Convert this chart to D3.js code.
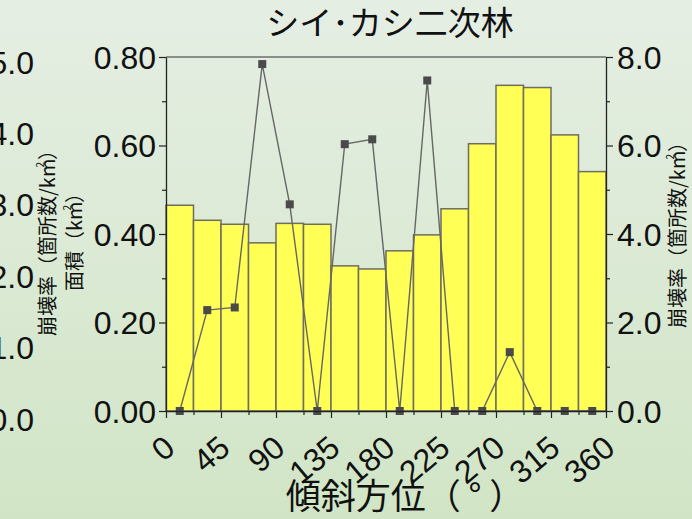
<!DOCTYPE html>
<html>
<head>
<meta charset="utf-8">
<script src="https://cdn.jsdelivr.net/npm/d3@7"></script>
<style>
  html, body { margin: 0; padding: 0; }
  body { width: 692px; height: 519px; overflow: hidden; }
  svg { display: block; }
</style>
</head>
<body>
<svg id="chart" width="692" height="519"></svg>
<script>
// Slope-aspect bins (degrees, start of each 22.5° class)
const binStart = [0, 22.5, 45, 67.5, 90, 112.5, 135, 157.5, 180, 202.5, 225, 247.5, 270, 292.5, 315, 337.5];
const binWidth = 22.5;
// Area of each aspect class (km²) — bars, left axis
const areaKm2 = [0.465, 0.431, 0.422, 0.380, 0.424, 0.422, 0.328, 0.321, 0.362, 0.398, 0.457, 0.604, 0.736, 0.731, 0.624, 0.541];
// Collapse rate (sites / km²) — line, right axis
const collapseRate = [0, 2.28, 2.34, 7.84, 4.67, 0, 6.03, 6.14, 0, 7.47, 0, 0, 1.33, 0, 0, 0];
// Tick values
const xTicks = [0, 45, 90, 135, 180, 225, 270, 315, 360];
const leftTicks = [0, 0.2, 0.4, 0.6, 0.8];
const rightTicks = [0, 2, 4, 6, 8];
const sideTicks = [0, 1, 2, 3, 4, 5];

const title = "シイ･カシ二次林";
const xTitle = "傾斜方位（ °  ）";

const svg = d3.select("#chart");
const W = 692, H = 519;
const plot = { left: 166, right: 606, top: 57, bottom: 411 };
const numFont = "'Liberation Sans', Arial, sans-serif";
const jpFont = "'Noto Sans CJK JP', 'Noto Sans', sans-serif";
const numSize = 32;

// background gradient
const defs = svg.append("defs");
const grad = defs.append("linearGradient").attr("id", "bg").attr("x1", 0).attr("y1", 0).attr("x2", 0).attr("y2", 1);
grad.append("stop").attr("offset", "0%").attr("stop-color", "#e5eee3");
grad.append("stop").attr("offset", "100%").attr("stop-color", "#d1e5c6");
svg.append("rect").attr("width", W).attr("height", H).attr("fill", "url(#bg)");

const x = d3.scaleLinear().domain([0, 360]).range([plot.left, plot.right]);
const yL = d3.scaleLinear().domain([0, 0.8]).range([plot.bottom, plot.top]);
const yR = d3.scaleLinear().domain([0, 8]).range([plot.bottom, plot.top]);
const ySide = d3.scaleLinear().domain([0, 5]).range([419, 62]);

// bars
svg.append("g").selectAll("rect").data(areaKm2).join("rect")
  .attr("x", (d, i) => x(binStart[i]))
  .attr("width", (d, i) => x(binStart[i] + binWidth) - x(binStart[i]))
  .attr("y", d => yL(d))
  .attr("height", d => yL(0) - yL(d))
  .attr("fill", "#ffff55")
  .attr("stroke", "#6e6e60")
  .attr("stroke-width", 1.5);

// plot frame top
svg.append("line").attr("x1", plot.left).attr("x2", plot.right).attr("y1", plot.top).attr("y2", plot.top)
  .attr("stroke", "#333").attr("stroke-width", 1.2);

// line series
const pts = collapseRate.map((v, i) => [x(binStart[i] + binWidth / 2), yR(v)]);
svg.append("path").attr("d", d3.line()(pts)).attr("fill", "none").attr("stroke", "#666").attr("stroke-width", 1.4);
svg.append("g").selectAll("rect").data(pts).join("rect")
  .attr("x", d => d[0] - 4).attr("y", d => d[1] - 4)
  .attr("width", 8).attr("height", 8).attr("fill", "#4a4a4a");

function styleAxis(g) {
  g.selectAll(".domain").attr("stroke", "#222").attr("stroke-width", 1.3);
  g.selectAll(".tick line").attr("stroke", "#222").attr("stroke-width", 1.2);
}

// left axis
const gL = svg.append("g").attr("transform", `translate(${plot.left},0)`);
gL.call(d3.axisLeft(yL).tickValues(d3.range(0, 0.81, 0.1)).tickSize(0).tickFormat(""));
gL.selectAll(".tick line").attr("x2", (d, i) => (i % 2 === 0 ? -7 : -4));
gL.call(styleAxis);
gL.append("g").selectAll("text").data(leftTicks).join("text")
  .attr("x", -10).attr("y", d => yL(d)).attr("dy", "0.36em")
  .attr("text-anchor", "end").attr("font-family", numFont).attr("font-size", numSize).attr("fill", "#111")
  .text(d => d3.format(".2f")(d));

// right axis
const gR = svg.append("g").attr("transform", `translate(${plot.right},0)`);
gR.call(d3.axisRight(yR).tickValues(d3.range(0, 8.1, 1)).tickSize(0).tickFormat(""));
gR.selectAll(".tick line").attr("x2", (d, i) => (i % 2 === 0 ? 7 : 4));
gR.call(styleAxis);
gR.append("g").selectAll("text").data(rightTicks).join("text")
  .attr("x", 11).attr("y", d => yR(d)).attr("dy", "0.36em")
  .attr("text-anchor", "start").attr("font-family", numFont).attr("font-size", numSize).attr("fill", "#111")
  .text(d => d3.format(".1f")(d));

// bottom axis
const gB = svg.append("g").attr("transform", `translate(0,${plot.bottom})`);
gB.call(d3.axisBottom(x).tickValues(d3.range(0, 361, 22.5)).tickSize(0).tickFormat(""));
gB.selectAll(".tick line").attr("y2", (d, i) => (i % 2 === 0 ? 7 : 4));
gB.call(styleAxis);
gB.append("g").selectAll("text").data(xTicks).join("text")
  .attr("transform", d => `translate(${x(d) + 11},${40}) rotate(-40)`)
  .attr("text-anchor", "end").attr("font-family", numFont).attr("font-size", numSize).attr("fill", "#111")
  .text(d => d);

// partial axis labels at the left edge
svg.append("g").selectAll("text").data(sideTicks).join("text")
  .attr("x", 34).attr("y", d => ySide(d)).attr("dy", "0.36em")
  .attr("text-anchor", "end").attr("font-family", numFont).attr("font-size", numSize).attr("fill", "#111")
  .text(d => d3.format(".1f")(d));

// title
svg.append("text").attr("x", 390).attr("y", 23).attr("dy", "0.36em")
  .attr("text-anchor", "middle").attr("font-family", jpFont).attr("font-size", 33).attr("fill", "#111")
  .text(title);

// x-axis title
svg.append("text").attr("x", 405).attr("y", 496).attr("dy", "0.36em")
  .attr("text-anchor", "middle").attr("font-family", jpFont).attr("font-size", 35).attr("fill", "#111")
  .text(xTitle);

// rotated axis titles with km² superscript
function unitTitle(cx, cy, pre, post) {
  const t = svg.append("text")
    .attr("transform", `translate(${cx},${cy}) rotate(-90)`)
    .attr("text-anchor", "middle").attr("dy", "0.36em")
    .attr("font-family", jpFont).attr("font-size", 20).attr("fill", "#111");
  t.append("tspan").text(pre);
  t.append("tspan").attr("font-size", 10).attr("dx", -9).attr("dy", -11).text("2");
  t.append("tspan").attr("dy", 11).attr("dx", 2).text(post);
}
unitTitle(48, 238, "崩壊率（箇所数/km", "）");
unitTitle(75, 237, "面積（km", "）");
unitTitle(678, 230, "崩壊率（箇所数/km", "）");
</script>
</body>
</html>
